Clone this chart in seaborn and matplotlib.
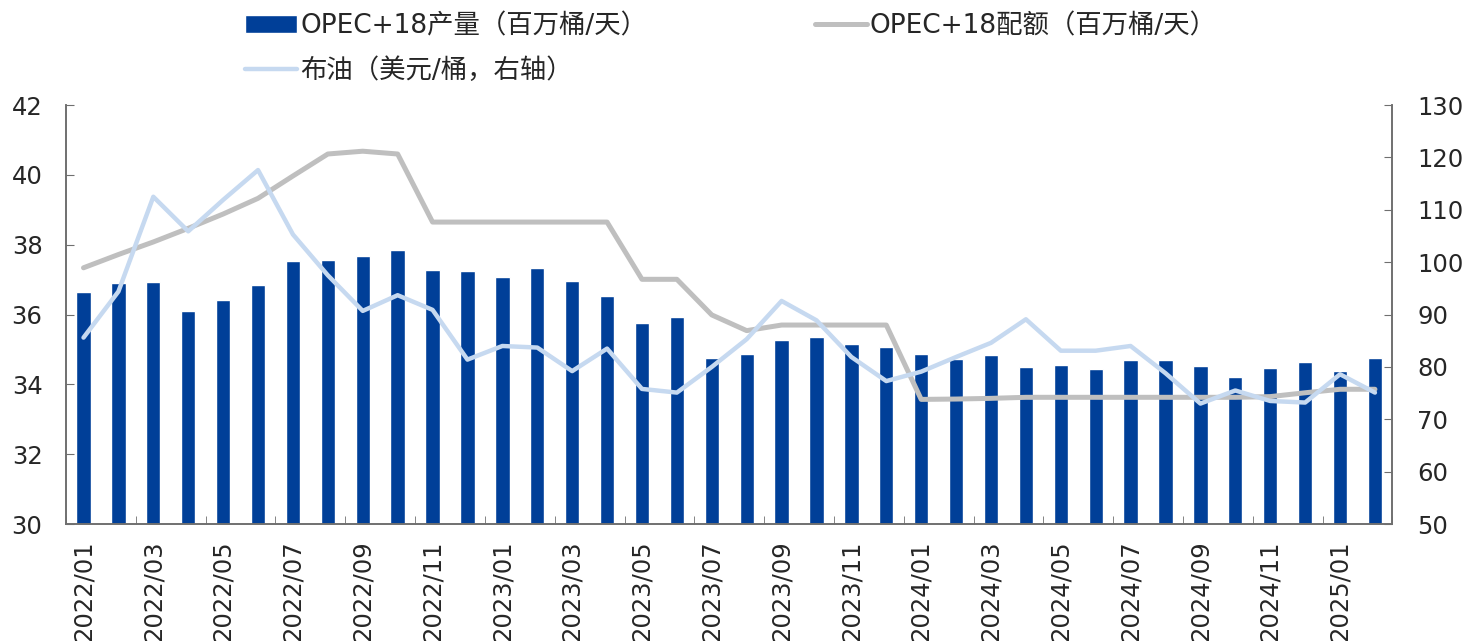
import numpy as np
import pandas as pd
import matplotlib
matplotlib.use("Agg")
import matplotlib.pyplot as plt
from matplotlib.ticker import FixedLocator, MultipleLocator
import seaborn as sns

# Данные
months = [f"{y}/{m:02d}" for y in (2022, 2023, 2024) for m in range(1, 13)] + ["2025/01", "2025/02"]

production = [36.65, 36.90, 36.92, 36.10, 36.42, 36.86, 37.53, 37.56, 37.67, 37.84,
              37.29, 37.25, 37.07, 37.33, 36.97, 36.54, 35.75, 35.92, 34.75, 34.86,
              35.28, 35.36, 35.15, 35.07, 34.87, 34.74, 34.83, 34.49, 34.55, 34.44,
              34.71, 34.71, 34.52, 34.21, 34.48, 34.64, 34.38, 34.75]

quota = [37.34, 37.72, 38.08, 38.47, 38.88, 39.33, 39.97, 40.60, 40.68, 40.60,
         38.65, 38.65, 38.65, 38.65, 38.65, 38.65, 37.01, 37.01, 35.99, 35.54,
         35.70, 35.70, 35.70, 35.70, 33.57, 33.58, 33.60, 33.63, 33.63, 33.63,
         33.63, 33.63, 33.63, 33.63, 33.65, 33.76, 33.86, 33.86]

brent = [85.6, 94.4, 112.5, 105.9, 111.9, 117.6, 105.3, 97.5, 90.7, 93.7,
         90.9, 81.4, 84.0, 83.7, 79.2, 83.5, 75.8, 75.1, 80.0, 85.3,
         92.6, 88.9, 81.9, 77.3, 79.1, 81.9, 84.6, 89.1, 83.1, 83.1,
         84.0, 78.8, 73.0, 75.5, 73.5, 73.2, 78.6, 75.1]

LABEL_PROD = "OPEC+18产量（百万桶/天）"
LABEL_QUOTA = "OPEC+18配额（百万桶/天）"
LABEL_BRENT = "布油（美元/桶，右轴）"

BAR_COLOR = "#003F98"
QUOTA_COLOR = "#BFBFBF"
BRENT_COLOR = "#C6D9F0"
SPINE_COLOR = "#6F6F6F"

df = pd.DataFrame({"month": months, "idx": np.arange(len(months)),
                   "production": production, "quota": quota, "brent": brent})

sns.set_style("white")
plt.rcParams["font.family"] = ["DejaVu Sans", "Noto Sans CJK SC"]

fig = plt.figure(figsize=(14.68, 6.41), dpi=100)
ax = fig.add_axes([0.045, 0.1825, 0.9035, 0.6535])

sns.barplot(data=df, x="month", y="production", color=BAR_COLOR, width=0.41,
            saturation=1, ax=ax, label=LABEL_PROD)
sns.lineplot(data=df, x="idx", y="quota", color=QUOTA_COLOR, linewidth=3.6,
             ax=ax, label=LABEL_QUOTA)

ax2 = ax.twinx()
sns.lineplot(data=df, x="idx", y="brent", color=BRENT_COLOR, linewidth=3.2,
             ax=ax2, label=LABEL_BRENT)

n = len(months)
ax.set_xlim(-0.5, n - 0.5)
ax.set_ylim(30, 42)
ax2.set_ylim(50, 130)
ax.yaxis.set_major_locator(MultipleLocator(2))
ax2.yaxis.set_major_locator(MultipleLocator(10))

# подписи каждые 2 месяца, засечки на границах категорий
ax.xaxis.set_major_locator(FixedLocator(np.arange(0, n, 2)))
ax.set_xticklabels(months[::2], rotation=90)
ax.xaxis.set_minor_locator(FixedLocator(np.arange(-0.5, n, 2)))
ax.tick_params(axis="x", which="major", length=0, pad=12, labelsize=17.5)
ax.tick_params(axis="x", which="minor", direction="in", length=6, color=SPINE_COLOR, bottom=True)
ax.tick_params(axis="y", direction="in", length=6, color=SPINE_COLOR, pad=17, labelsize=17.5, left=True)
ax2.tick_params(axis="y", direction="in", length=6, color=SPINE_COLOR, pad=18, labelsize=17.5, right=True)

for a in (ax, ax2):
    a.set_xlabel("")
    a.set_ylabel("")
    a.spines["top"].set_visible(False)
    for s in ("left", "right", "bottom"):
        a.spines[s].set_color(SPINE_COLOR)
        a.spines[s].set_linewidth(1.2)
    if a.get_legend() is not None:
        a.get_legend().remove()

h1, l1 = ax.get_legend_handles_labels()
h2, l2 = ax2.get_legend_handles_labels()
handles = dict(zip(l1 + l2, h1 + h2))
order = [LABEL_PROD, LABEL_BRENT, LABEL_QUOTA]
fig.legend([handles[k] for k in order], order, ncol=2, loc="upper left",
           bbox_to_anchor=(245 / 1468, 0.979), frameon=False, fontsize=19,
           handlelength=1.97, handletextpad=0.12, columnspacing=6.35,
           labelspacing=0.72, borderpad=0, borderaxespad=0)

fig.savefig("out.png", dpi=100)
